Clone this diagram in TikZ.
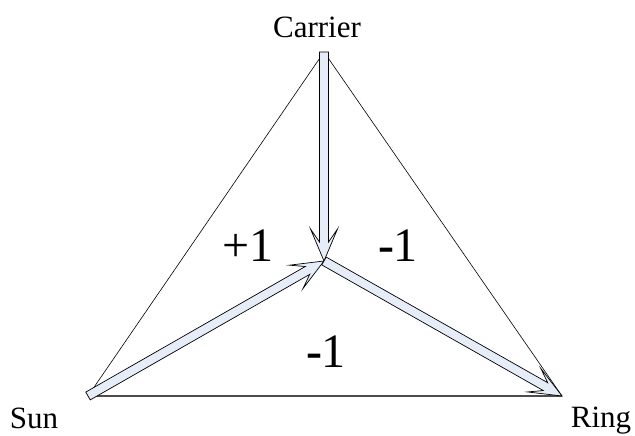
\documentclass[tikz,border=0pt]{standalone}
\usepackage{fontspec}
\setmainfont{Liberation Serif}
\usetikzlibrary{calc,positioning}

\definecolor{shaftblue}{RGB}{230,237,248}

% hollow wide arrow from #1 to #2
\newcommand{\widearrow}[2]{%
  \coordinate (wa-neck) at ($(#2)!19pt!(#1)$);
  \coordinate (wa-barb) at ($(#2)!32pt!(#1)$);
  \filldraw[arrowbody] ($(#1)!4.5pt!90:(#2)$) -- ($(wa-neck)!4.5pt!90:(#2)$)
    -- ($(wa-barb)!13.5pt!90:(#2)$) -- (#2) -- ($(wa-barb)!13.5pt!-90:(#2)$)
    -- ($(wa-neck)!4.5pt!-90:(#2)$) -- ($(#1)!4.5pt!-90:(#2)$) -- cycle;
}

\begin{document}
\begin{tikzpicture}[
  x=1pt, y=-1pt,
  edge/.style={draw, line width=0.6pt},
  baseedge/.style={draw, line width=1.1pt, gray!60!black},
  arrowbody/.style={fill=shaftblue, draw=black, line width=0.7pt, line join=miter},
  vertexlabel/.style={anchor=base, font=\fontsize{31}{36}\selectfont},
  signlabel/.style={anchor=base, font=\fontsize{48}{56}\selectfont}
]
\useasboundingbox (0,0) rectangle (635,436);

\coordinate (carrier) at (324,52);
\coordinate (sun) at (88,396);
\coordinate (ring) at (562,396);
\coordinate (hub) at (324,261);

\node[vertexlabel] (carrierlabel) at (317,38) {Carrier};
\node[vertexlabel] (sunlabel) at (34,428) {Sun};
\node[vertexlabel] (ringlabel) at (601,427) {Ring};

\node[signlabel] (signleft) at (248,261) {+1};
\node[signlabel] (signright) at (398,261) {{\bfseries -}1};
\node[signlabel] (signbottom) at (326,367) {{\bfseries -}1};

\draw[edge] (carrier) -- (sun);
\draw[edge] (carrier) -- (ring);
\draw[baseedge] (sun) -- (ring);

\widearrow{carrier}{hub}
\widearrow{sun}{hub}
\widearrow{hub}{ring}
\end{tikzpicture}
\end{document}
